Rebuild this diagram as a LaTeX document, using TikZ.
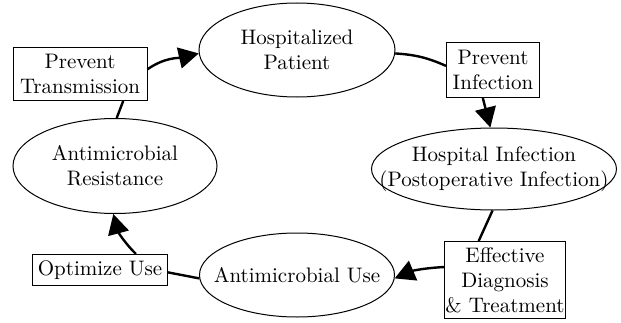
\documentclass[tikz,border=0pt]{standalone}
\usepackage{tikz}
\usetikzlibrary{positioning, arrows.meta, shapes.geometric}
\tikzstyle{oval} = [ellipse,draw=black,line width=0.5pt,inner sep=0pt]
\tikzstyle{box} = [rectangle,draw=black,line width=0.5pt,inner sep=0pt,align=center]
\tikzstyle{txt} = [align=center,inner sep=0pt]
\tikzstyle{link} = [line width=1.2pt]
\tikzstyle{arr} = [line width=1.2pt,-{Triangle[length=10pt,width=10.5pt]}]

\begin{document}
\begin{tikzpicture}[x=0.5pt,y=0.5pt,font=\fontsize{10.5}{12.5}\selectfont]
  \useasboundingbox (0,0) rectangle (621,322);
  \node[oval,minimum width=98pt,minimum height=47pt,label={[txt]center:Hospitalized\\Patient}] (hosp) at (297,272) {};
  \node[box,minimum width=46.5pt,minimum height=27.5pt] (pinf) at (493,252) {Prevent\\Infection};
  \node[oval,minimum width=122.5pt,minimum height=41pt,label={[txt]center:Hospital Infection\\(Postoperative Infection)}] (hinf) at (494,153) {};
  \node[box,minimum width=60.5pt,minimum height=38.5pt] (diag) at (505,42) {Effective\\Diagnosis\\\& Treatment};
  \node[oval,minimum width=97.5pt,minimum height=42pt,label={[txt]center:Antimicrobial Use}] (ause) at (297,47) {};
  \node[box,minimum width=67.5pt,minimum height=15.5pt] (optu) at (100,52) {Optimize Use};
  \node[oval,minimum width=102pt,minimum height=47.5pt,label={[txt]center:Antimicrobial\\Resistance}] (ares) at (115,156) {};
  \node[box,minimum width=67pt,minimum height=26.5pt] (ptrans) at (80,248) {Prevent\\Transmission};

  \draw[arr] (ptrans.4) to[out=35,in=193] (hosp.182);
  \draw[link] (hosp.358) to[bend left=10] (pinf.175);
  \draw[arr] (pinf.250) -- (hinf.95);
  \draw[link] (hinf.268) -- (diag.124);
  \draw[arr] (diag.168) to[bend right=10] (ause.358);
  \draw[link] (ause.182) -- (optu.358);
  \draw[arr] (optu.24) to[out=135,in=-75] (ares.268);
  \draw[link] (ares.88) -- (ptrans.328);
\end{tikzpicture}
\end{document}
